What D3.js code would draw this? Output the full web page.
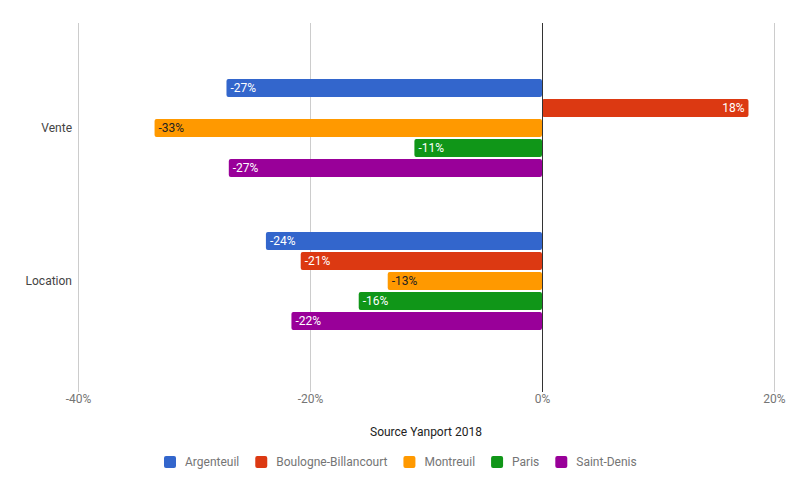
<!DOCTYPE html>
<html><head><meta charset="utf-8">
<script src="https://cdn.jsdelivr.net/npm/d3@7"></script>
<style>body{margin:0;background:#fff}svg{display:block}text{font-family:Roboto,Arial,sans-serif}</style>
</head><body><svg id="c" width="800" height="495"></svg>
<script>
const categories = ["Vente", "Location"];
const seriesNames = ["Argenteuil", "Boulogne-Billancourt", "Montreuil", "Paris", "Saint-Denis"];
const colors = ["#3366cc", "#dc3912", "#ff9900", "#109618", "#990099"];
const labelColors = ["#fff", "#fff", "#222", "#fff", "#fff"];
const venteValues = [-27.2, 17.8, -33.4, -11.0, -27.0];
const locationValues = [-23.8, -20.8, -13.3, -15.8, -21.6];
const xTicks = [-40, -20, 0, 20];
const title = "Source Yanport 2018";

const values = [venteValues, locationValues];
const svg = d3.select("#c");
const plotTop = 23, plotBottom = 392;
const x = d3.scaleLinear().domain([-40, 20]).range([78, 774]);
const y = d3.scaleBand().domain(categories).range([plotTop, plotBottom]).paddingInner(0.36).paddingOuter(0.386).align(0.475);
const ys = d3.scaleBand().domain(seriesNames).range([0, y.bandwidth()]).paddingInner(0.1);

// gridlines
svg.append("g").selectAll("line").data(xTicks.filter(d => d !== 0)).join("line")
  .attr("x1", d => Math.round(x(d)) + 0.5).attr("x2", d => Math.round(x(d)) + 0.5)
  .attr("y1", plotTop).attr("y2", plotBottom).attr("stroke", "#cccccc");

// axis labels
const xAxis = d3.axisBottom(x).tickValues(xTicks).tickSize(0).tickPadding(0).tickFormat(d => d + "%");
const gx = svg.append("g").attr("transform", `translate(0,${plotBottom + 2})`).call(xAxis);
gx.select(".domain").remove();
gx.selectAll("text").attr("fill", "#757575").attr("font-size", 12).attr("dy", "0.71em")
  .attr("font-family", "Roboto, Arial, sans-serif");

const yAxis = d3.axisLeft(y).tickSize(0).tickPadding(6);
const gy = svg.append("g").attr("transform", `translate(78,0)`).call(yAxis);
gy.select(".domain").remove();
gy.selectAll("text").attr("fill", "#444").attr("font-size", 12).attr("font-family", "Roboto, Arial, sans-serif");

// bars
categories.forEach((cat, ci) => {
  const g = svg.append("g").attr("transform", `translate(0,${y(cat)})`);
  const data = seriesNames.map((s, si) => ({s, si, v: values[ci][si]}));
  g.selectAll("rect").data(data).join("rect")
    .attr("x", d => Math.min(x(0), x(d.v)))
    .attr("width", d => Math.abs(x(d.v) - x(0)))
    .attr("y", d => ys(d.s)).attr("height", ys.bandwidth())
    .attr("rx", 2).attr("fill", d => colors[d.si]);
  g.selectAll("text").data(data).join("text")
    .attr("x", d => d.v < 0 ? x(d.v) + 4 : x(d.v) - 4)
    .attr("text-anchor", d => d.v < 0 ? "start" : "end")
    .attr("y", d => ys(d.s) + ys.bandwidth() / 2).attr("dy", "0.35em")
    .attr("font-size", 12).attr("fill", d => labelColors[d.si])
    .text(d => Math.round(d.v) + "%");
});

// zero line
svg.append("line").attr("x1", Math.round(x(0)) + 0.5).attr("x2", Math.round(x(0)) + 0.5)
  .attr("y1", plotTop).attr("y2", plotBottom).attr("stroke", "#333");

// title
svg.append("text").attr("x", 426).attr("y", 436).attr("text-anchor", "middle")
  .attr("font-size", 12).attr("fill", "#222").text(title);

// legend
const lg = svg.append("g");
let cx = 0;
seriesNames.forEach((s, i) => {
  const it = lg.append("g").attr("transform", `translate(${cx},0)`);
  it.append("rect").attr("width", 12).attr("height", 12).attr("rx", 2).attr("y", -6).attr("fill", colors[i]);
  const t = it.append("text").attr("x", 21).attr("dy", "0.35em").attr("font-size", 12).attr("fill", "#757575").text(s);
  cx += 21 + t.node().getComputedTextLength() + 16;
});
const total = cx - 16;
lg.attr("transform", `translate(${Math.round(400 - total / 2)},462)`);
</script></body></html>
